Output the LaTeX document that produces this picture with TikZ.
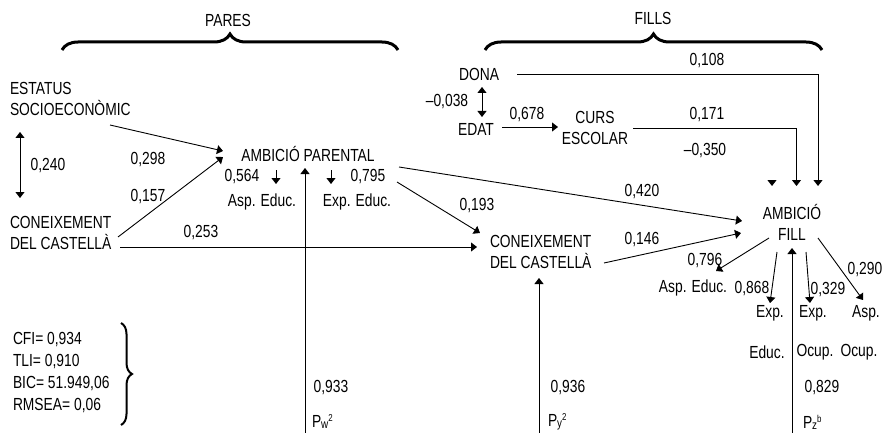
\documentclass[tikz,border=0pt]{standalone}
\usepackage{fontspec}
\setmainfont{Liberation Sans}[FakeStretch=0.79]
\usetikzlibrary{arrows.meta,calc,decorations.pathreplacing}
\newcommand{\Pl}[2]{P\raisebox{-1pt}{\fontsize{12.5}{12.5}\selectfont #1}\raisebox{6pt}{\fontsize{10}{10}\selectfont #2}}
\begin{document}
\begin{tikzpicture}[x=1pt,y=-1pt,
  txt/.style={font=\fontsize{17.5}{21}\selectfont, inner sep=0pt, outer sep=0pt},
  arr/.style={-{Triangle[length=6pt,width=9pt]}, line width=0.9pt},
  darr/.style={{Triangle[length=6pt,width=9pt]}-{Triangle[length=6pt,width=9pt]}, line width=0.9pt},
  bigbrace/.style={decorate, decoration={brace, amplitude=16pt}, line width=3pt},
  smallbrace/.style={decorate, decoration={brace, amplitude=11pt}, line width=2pt}]
\useasboundingbox (0,0) rectangle (883,433);
% headings
\node[txt] (pares) at (228,20) {PARES};
\node[txt] (fills) at (653,18) {FILLS};
\draw[bigbrace] (62,50) -- (398,50);
\draw[bigbrace] (485,50) -- (822,50);
% main nodes
\node[txt, anchor=west, align=left] (ses) at (10,99) {ESTATUS\\SOCIOECONÒMIC};
\node[txt, anchor=west, align=left] (ckl) at (10,233) {CONEIXEMENT\\DEL CASTELLÀ};
\node[txt] (ap) at (308,154) {AMBICIÓ PARENTAL};
\node[txt] (ape) at (262,202) {Asp. Educ.};
\node[txt] (epe) at (357,202) {Exp. Educ.};
\node[txt, anchor=west, align=left] (ckm) at (490,252) {CONEIXEMENT\\DEL CASTELLÀ};
\node[txt] (dona) at (479,74) {DONA};
\node[txt] (edat) at (476,129) {EDAT};
\node[txt, align=center] (curs) at (595,128) {CURS\\ESCOLAR};
\node[txt, align=center] (af) at (792,222) {AMBICIÓ\\FILL};
\node[txt] (fae) at (693,288) {Asp. Educ.};
\node[txt] (fee) at (770,313) {Exp.};
\node[txt] (fee2) at (767,352) {Educ.};
\node[txt] (feo) at (813,313) {Exp.};
\node[txt] (feo2) at (815,352) {Ocup.};
\node[txt] (fao) at (866,313) {Asp.};
\node[txt] (fao2) at (859,352) {Ocup.};
% fit statistics
\node[txt, anchor=west, align=left, font=\fontsize{17.5}{22}\selectfont] (fit) at (13,373) {CFI= 0,934\\TLI= 0,910\\BIC= 51.949,06\\RMSEA= 0,06};
\draw[smallbrace] (121,323) -- (121,425);
% coefficient labels
\node[txt] (l240) at (48,166) {0,240};
\node[txt] (l298) at (148,160) {0,298};
\node[txt] (l157) at (148,197) {0,157};
\node[txt] (l253) at (201,233) {0,253};
\node[txt] (l564) at (242,177) {0,564};
\node[txt] (l795) at (368,177) {0,795};
\node[txt] (l420) at (642,192) {0,420};
\node[txt] (l193) at (477,206) {0,193};
\node[txt] (l146) at (642,240) {0,146};
\node[txt] (l108) at (707,61) {0,108};
\node[txt] (l171) at (707,115) {0,171};
\node[txt] (l350) at (705,151) {–0,350};
\node[txt] (l038) at (447,102) {–0,038};
\node[txt] (l678) at (527,115) {0,678};
\node[txt] (l796) at (705,261) {0,796};
\node[txt] (l868) at (752,289) {0,868};
\node[txt] (l329) at (828,290) {0,329};
\node[txt] (l290) at (865,270) {0,290};
\node[txt] (l933) at (331,388) {0,933};
\node[txt] (l936) at (568,388) {0,936};
\node[txt] (l829) at (822,388) {0,829};
\node[txt, anchor=west] (pw) at (312,422) {\Pl{w}{2}};
\node[txt, anchor=west] (py) at (548,422) {\Pl{y}{2}};
\node[txt, anchor=west] (pz) at (803,422) {\Pl{z}{b}};
\coordinate (pwb) at (305,434);
\coordinate (pyb) at (539,434);
\coordinate (pzb) at (792,434);
% connectors
\draw[darr] ($(ses.west)+(10,33)$) -- ($(ckl.west)+(10,-35)$);
\draw[arr] ($(ses.west)+(100,26)$) -- ($(ap.center)+(-85,-3)$);
\draw[arr] ($(ckl.west)+(108,4)$) -- ($(ap.center)+(-85,3)$);
\draw[arr] ($(ckl.west)+(110,14)$) -- ($(ckm.west)+(-13,-5)$);
\draw[arr] ($(ap.center)+(-32,16)$) -- ($(ap.center)+(-32,30)$);
\draw[arr] ($(ap.center)+(23,16)$) -- ($(ap.center)+(23,30)$);
\draw[arr] ($(ap.center)+(91,13)$) -- ($(af.center)+(-50,-1)$);
\draw[arr] ($(ap.center)+(89,28)$) -- ($(ckm.west)+(-10,-19)$);
\draw[arr] ($(ckm.west)+(114,11)$) -- ($(af.center)+(-51,11)$);
\draw[arr] (pwb) -- ($(ap.center)+(-3,14)$);
\draw[arr] (pyb) -- ($(ckm.west)+(49,26)$);
\draw[arr] (pzb) -- ($(af.center)+(0,26)$);
\draw[arr] ($(dona.center)+(38,0)$) -| ($(af.center)+(26,-36)$);
\draw[arr] ($(curs.center)+(38,0)$) -| ($(af.center)+(4.5,-36)$);
\draw[arr] ($(af.center)+(-20,-41)$) -- ($(af.center)+(-20,-36)$);
\draw[darr] ($(dona.center)+(3,13)$) -- ($(edat.center)+(6,-12)$);
\draw[arr] ($(edat.center)+(26,-2)$) -- ($(curs.center)+(-37,-1)$);
\draw[arr] ($(af.center)+(-23,16)$) -- ($(fae.center)+(23,-17)$);
\draw[arr] ($(af.center)+(-15,30)$) -- ($(fee.center)+(0,-10)$);
\draw[arr] ($(af.center)+(14,30)$) -- ($(feo.center)+(-3,-10)$);
\draw[arr] ($(af.center)+(26,16)$) -- ($(fao.center)+(-3,-13)$);
\end{tikzpicture}
\end{document}
